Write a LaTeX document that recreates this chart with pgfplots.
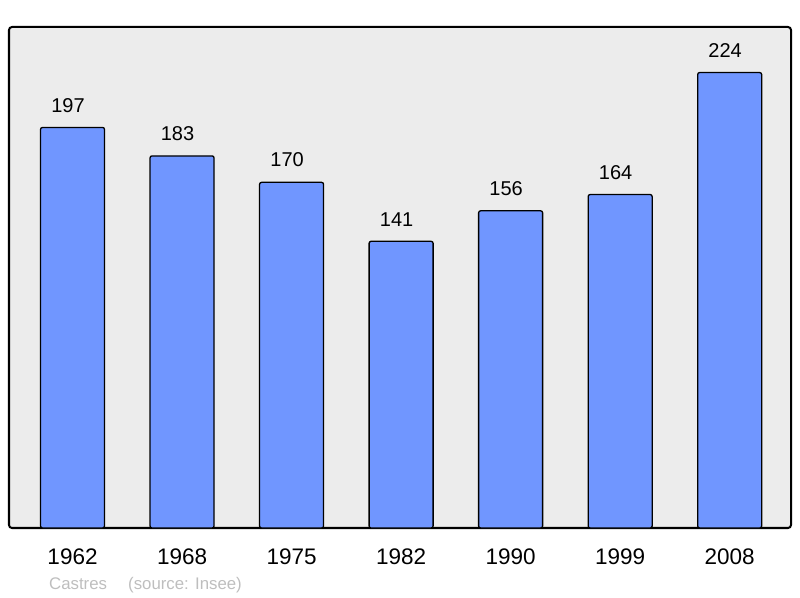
\documentclass[border=0pt]{standalone}
\usepackage{pgfplots}
\pgfplotsset{compat=1.18}
\usepackage{fontspec}
\setmainfont{Liberation Sans}
\definecolor{barblue}{RGB}{112,150,255}
\definecolor{panel}{RGB}{236,236,236}
\definecolor{note}{RGB}{190,190,190}

\begin{document}
\begin{tikzpicture}
\path[use as bounding box] (0,0) rectangle (800bp,598bp);
\begin{axis}[
    at={(9bp,70bp)}, anchor=south west,
    scale only axis, width=782bp, height=501bp,
    xmin=-0.58, xmax=6.56, ymin=0, ymax=246.4,
    ybar, bar width=64bp,
    xtick={0,...,6},
    xticklabels={1962,1968,1975,1982,1990,1999,2008},
    ytick=\empty, major tick length=0pt,
    xticklabel style={font=\fontsize{22.5bp}{27bp}\selectfont, anchor=base, yshift=-36bp},
    axis line style={draw=none},
    axis background/.style={fill=panel, draw=black, line width=2bp, rounded corners=3bp},
    nodes near coords,
    every node near coord/.append style={font=\fontsize{20bp}{24bp}\selectfont, inner sep=0pt, xshift=-4.5bp, yshift=14.5bp, text=black},
    /pgf/number format/assume math mode=true,
    clip=false,
  ]
  \addplot[fill=barblue, draw=black, line width=1.3bp, rounded corners=2bp]
    coordinates {(0,197) (1,183) (2,170) (3,141) (4,156) (5,164) (6,224)};
\end{axis}
\node[anchor=base west, inner sep=0pt, text=note, font=\fontsize{16.8bp}{20bp}\selectfont] at (49bp,9bp) {Castres};
\node[anchor=base west, inner sep=0pt, text=note, font=\fontsize{16.8bp}{20bp}\selectfont] at (128bp,9bp) {(source: Insee)};
\end{tikzpicture}
\end{document}
